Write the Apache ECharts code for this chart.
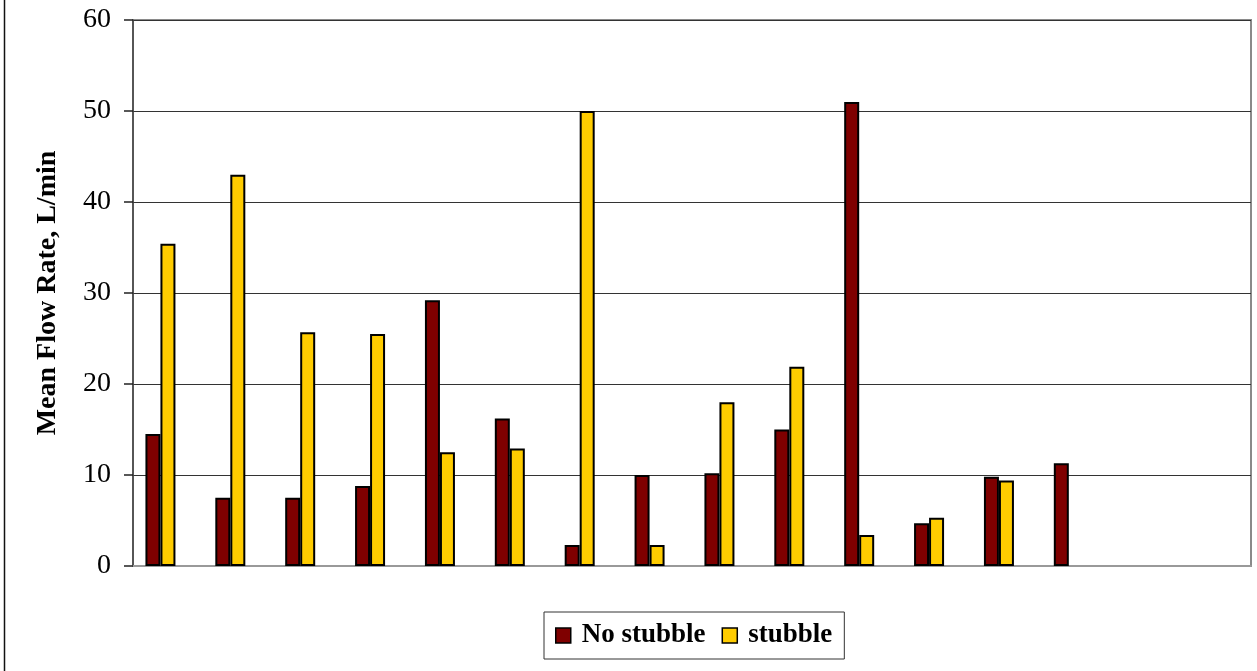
<!DOCTYPE html>
<html>
<head>
<meta charset="utf-8">
<script src="https://cdn.jsdelivr.net/npm/echarts@6/dist/echarts.min.js"></script>
<style>
  html, body { margin: 0; padding: 0; background: #fff; }
  #chart { width: 1257px; height: 671px; }
</style>
</head>
<body>
<div id="chart"></div>
<script>
// Sixteen sampling positions along the x axis (unlabelled)
const categories = ['1','2','3','4','5','6','7','8','9','10','11','12','13','14','15','16'];

// Mean flow rate (L/min) per position
const noStubble = [14.5, 7.5, 7.5, 8.8, 29.2, 16.2, 2.3, 10.0, 10.2, 15.0, 51.0, 4.7, 9.8, 11.3, null, null];
const stubble   = [35.4, 43.0, 25.7, 25.5, 12.5, 12.9, 50.0, 2.3, 18.0, 21.9, 3.4, 5.3, 9.4, null, null, null];
// Empty third slot in each group (keeps the pair left of the category centre)
const spacer    = categories.map(() => null);

const yTicks = { min: 0, max: 60, interval: 10 };

const serif = '"Liberation Serif", "Times New Roman", serif';

const chart = echarts.init(document.getElementById('chart'), null, { renderer: 'canvas' });

const barBorder = { borderColor: '#000', borderWidth: 2 };

chart.setOption({
  animation: false,
  backgroundColor: '#fff',
  grid: {
    left: 133, top: 20, right: 6, bottom: 105,
    show: true,
    borderColor: '#8a8a8a',
    borderWidth: 2,
    backgroundColor: 'transparent'
  },
  legend: {
    data: ['No stubble', 'stubble'],
    left: 544, top: 612,
    padding: [10, 12, 10, 11],
    itemGap: 16,
    itemWidth: 15,
    itemHeight: 15,
    borderColor: '#333',
    borderWidth: 1,
    icon: 'rect',
    itemStyle: { borderColor: '#000', borderWidth: 1.5 },
    textStyle: { fontFamily: serif, fontSize: 27, fontWeight: 'bold', color: '#000', padding: [0, 0, 0, 6] }
  },
  xAxis: {
    type: 'category',
    data: categories,
    axisLine: { show: true, lineStyle: { color: '#999', width: 2 } },
    axisTick: { show: false },
    axisLabel: { show: false },
    splitLine: { show: false }
  },
  yAxis: {
    type: 'value',
    min: yTicks.min, max: yTicks.max, interval: yTicks.interval,
    name: 'Mean Flow Rate, L/min',
    nameLocation: 'middle',
    nameGap: 71,
    nameTextStyle: { fontFamily: serif, fontSize: 28, fontWeight: 'bold', color: '#000' },
    axisLine: { show: true, lineStyle: { color: '#444', width: 1.5 } },
    axisTick: { show: true, inside: false, length: 9, lineStyle: { color: '#222', width: 1.5 } },
    axisLabel: { fontFamily: serif, fontSize: 28, color: '#000', margin: 22 },
    splitLine: { show: true, lineStyle: { color: '#333', width: 1.2 } }
  },
  series: [
    {
      name: 'No stubble', type: 'bar', data: noStubble,
      barWidth: 15, barGap: '0%',
      itemStyle: Object.assign({ color: '#7f0000' }, barBorder)
    },
    {
      name: 'stubble', type: 'bar', data: stubble,
      barWidth: 15, barGap: '0%',
      itemStyle: Object.assign({ color: '#ffcc00' }, barBorder)
    },
    {
      name: 'spacer', type: 'bar', data: spacer,
      barWidth: 15, barGap: '0%',
      itemStyle: { color: 'transparent' }
    }
  ],
  graphic: [
    {
      type: 'line',
      shape: { x1: 4.5, y1: 0, x2: 4.5, y2: 671 },
      style: { stroke: '#111', lineWidth: 1.5 },
      silent: true
    }
  ]
});
</script>
</body>
</html>
